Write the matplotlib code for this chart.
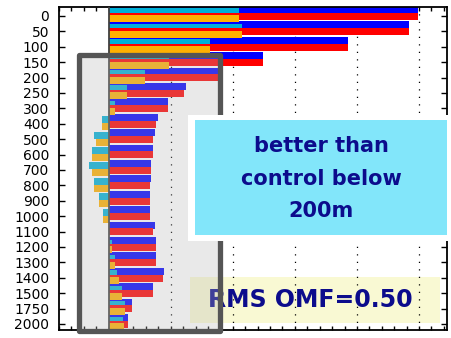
import numpy as np
import matplotlib.pyplot as plt
from matplotlib.patches import Rectangle

W, H = 452, 338

levels = ['0', '50', '100', '150', '200', '250', '300', '400', '500', '600', '700',
          '800', '900', '1000', '1100', '1200', '1300', '1400', '1500', '1750', '2000']
blue = [4.98, 4.84, 3.85, 2.48, 1.76, 1.24, 0.95, 0.79, 0.74, 0.71, 0.69,
        0.69, 0.66, 0.66, 0.74, 0.77, 0.77, 0.89, 0.71, 0.37, 0.31]
red = [4.98, 4.84, 3.85, 2.48, 1.76, 1.21, 0.95, 0.76, 0.71, 0.71, 0.69,
       0.66, 0.66, 0.66, 0.71, 0.77, 0.77, 0.87, 0.71, 0.37, 0.31]
cyan = [2.10, 2.15, 1.63, 0.97, 0.58, 0.29, 0.11, -0.10, -0.23, -0.27, -0.31,
        -0.23, -0.15, -0.09, 0.0, 0.06, 0.10, 0.13, 0.21, 0.26, 0.23]
orange = [2.10, 2.15, 1.63, 0.97, 0.58, 0.29, 0.11, -0.10, -0.21, -0.27, -0.27,
          -0.23, -0.15, -0.09, 0.0, 0.06, 0.11, 0.16, 0.21, 0.26, 0.24]
note_lines = ['better than', 'control below', '200m']


def box(x0, y0, x1, y1):
    # pixel box (top-left origin) -> figure fraction
    return (x0 / W, 1 - y1 / H), (x1 - x0) / W, (y1 - y0) / H


fig = plt.figure(figsize=(W / 100, H / 100), dpi=100)
fig.patch.set_facecolor('white')
ax = fig.add_axes([59 / W, 8 / H, 388 / W, 323 / H])
ax.set_facecolor('none')

y = np.arange(len(levels))
h = 0.45
ax.barh(y - 0.42, blue, height=h, color='#0000ff', zorder=2)
ax.barh(y - 0.26, cyan, height=h, color='#00b0d8', zorder=3)
ax.barh(y + 0.02, red, height=h, color='#ff0000', zorder=4)
ax.barh(y + 0.19, orange, height=h, color='#ffb000', zorder=5)

ax.axvline(0, color='#404040', lw=1.3, zorder=6)
for gx in range(1, 6):
    ax.axvline(gx, color='black', lw=0.9, ls=(0, (1, 5)), zorder=1)

ax.set_xlim(-0.8, 5.45)
ax.set_ylim(20.39, -0.58)
ax.set_yticks(y, levels)
ax.set_xticks(np.arange(-0.8, 5.41, 0.2))
ax.set_xticklabels([])
ax.tick_params(direction='in', top=True, right=True, length=3, width=1)
ax.tick_params(axis='y', length=4, labelsize=10, pad=7)
for s in ax.spines.values():
    s.set_linewidth(1.3)

# light yellow box (under the axes content)
xy, w, hh = box(190, 277, 440, 323)
fig.add_artist(Rectangle(xy, w, hh, transform=fig.transFigure,
                         facecolor='#f8f8c8', edgecolor='none', alpha=0.8, zorder=-1))
fig.text(310 / W, 1 - 300 / H, 'RMS OMF=0.50', ha='center', va='center',
         fontsize=17, fontweight='bold', color='#0c0c8c', zorder=1)

# grey highlight box
xy, w, hh = box(79.5, 55, 220.5, 331)
fig.add_artist(Rectangle(xy, w, hh, transform=fig.transFigure,
                         facecolor=(0.72, 0.72, 0.72, 0.3), edgecolor='#555555',
                         lw=3.8, joinstyle='round', zorder=2))

# cyan note box with white frame
xy, w, hh = box(188, 115, 452, 241)
fig.add_artist(Rectangle(xy, w, hh, transform=fig.transFigure,
                         facecolor='white', edgecolor='none', zorder=3))
xy, w, hh = box(195, 120, 447, 235)
fig.add_artist(Rectangle(xy, w, hh, transform=fig.transFigure,
                         facecolor='#82e6fa', edgecolor='none', zorder=3))
for line, ty in zip(note_lines, [146, 179, 211]):
    fig.text(321 / W, 1 - ty / H, line, ha='center', va='center',
             fontsize=15, fontweight='bold', color='#0c0c8c', zorder=4)

fig.savefig('out.png', dpi=100)
